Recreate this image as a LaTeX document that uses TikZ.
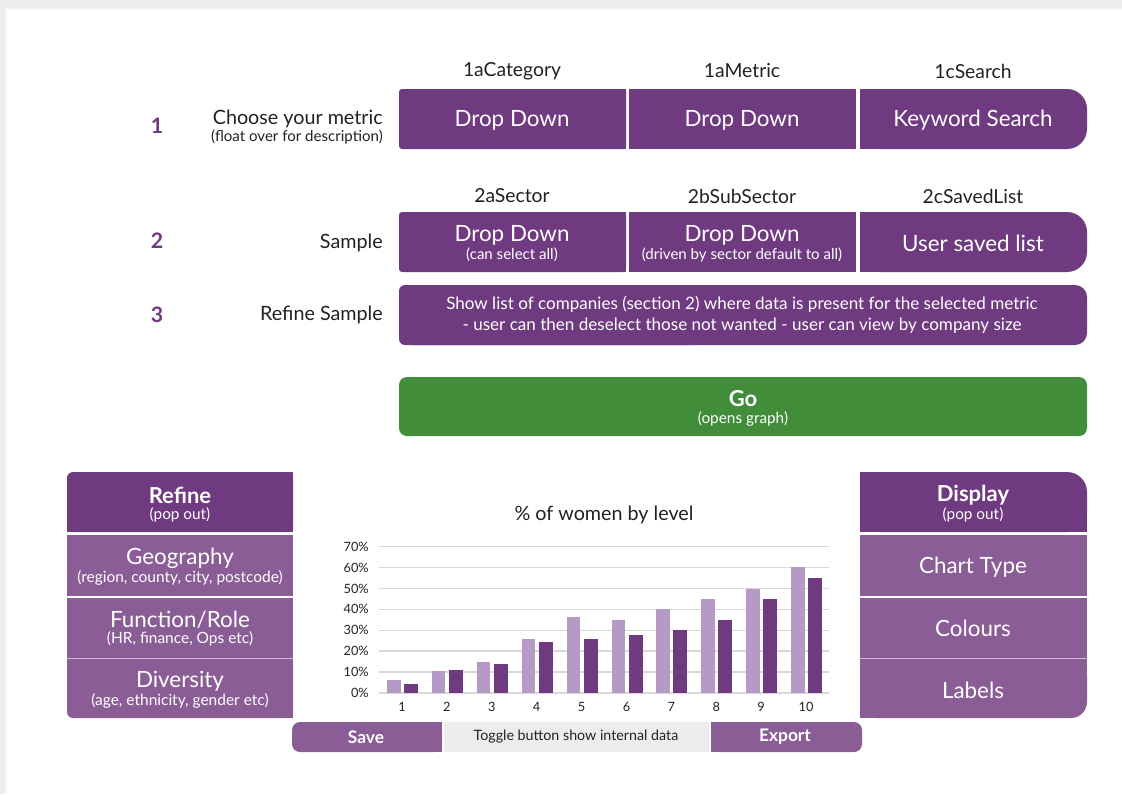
\documentclass[tikz,border=0pt]{standalone}
\usepackage{fontspec}
\setmainfont{Lato}
\usepackage{tikz}

\definecolor{plum}{RGB}{111,58,128}
\definecolor{plumlight}{RGB}{138,93,150}
\definecolor{plumbar}{RGB}{180,154,197}
\definecolor{gogreen}{RGB}{65,141,58}
\definecolor{togglegray}{RGB}{236,236,236}
\definecolor{gridgray}{RGB}{217,217,217}
\definecolor{pagegray}{RGB}{238,238,238}
\definecolor{inktext}{RGB}{34,34,34}

\newcommand{\fsz}[1]{\fontsize{#1}{1.2\dimexpr#1\relax}\selectfont}

\begin{document}
\begin{tikzpicture}[x=0.75pt,y=0.75pt,yscale=-1,xscale=1,
  numlbl/.style={inner sep=0pt, text=plum, font=\fsz{16pt}\bfseries},
  rowlbl/.style={inner sep=0pt, anchor=east, text=inktext, font=\fsz{14.8pt}},
  rowsub/.style={inner sep=0pt, anchor=east, text=inktext, font=\fsz{11.3pt}},
  hdr/.style={inner sep=0pt, text=inktext, font=\fsz{14.5pt}},
  boxtxt/.style={inner sep=0pt, text=white, font=\fsz{16.8pt}},
  boxsub/.style={inner sep=0pt, text=white, font=\fsz{11.3pt}},
  paneltop/.style={inner sep=0pt, text=white, font=\fsz{16.5pt}\bfseries},
  panelsub/.style={inner sep=0pt, text=white, font=\fsz{11.5pt}},
  itemsub/.style={inner sep=0pt, text=white, font=\fsz{11.6pt}},
  axlbl/.style={inner sep=0pt, text=inktext, font=\fsz{9.6pt}},
  grid/.style={draw=gridgray, line width=1.1pt},
  btntxt/.style={inner sep=0pt, text=white, font=\fsz{13pt}\bfseries}]
\useasboundingbox (0,0) rectangle (1122,794);

%Page
\fill[pagegray] (0,0) rectangle (1122,794);
\fill[black!4] (5,8) rectangle (1122,794);
\fill[white] (7,10) rectangle (1122,794);

%Shape: Row 1 boxes
\fill[plum, rounded corners=2.25pt] (399,89) rectangle (626,149);
\fill[plum] (500,89) rectangle (626,149);
\fill[plum] (629,89) rectangle (856,149);
\fill[plum, rounded corners=15pt] (860,89) rectangle (1087,149);
\fill[plum] (860,89) rectangle (960,149);
%Shape: Row 2 boxes
\fill[plum, rounded corners=2.25pt] (399,212) rectangle (626,272);
\fill[plum] (500,212) rectangle (626,272);
\fill[plum] (629,212) rectangle (856,272);
\fill[plum, rounded corners=15pt] (860,212) rectangle (1087,272);
\fill[plum] (860,212) rectangle (960,272);
%Shape: Row 3 box
\fill[plum, rounded corners=9pt] (399,285) rectangle (1087,345);
\fill[plum, rounded corners=4.5pt] (399,285) rectangle (700,345);
%Shape: Go button
\fill[gogreen, rounded corners=6pt] (399,377) rectangle (1087,436);

%Shape: Refine panel
\fill[plum, rounded corners=4.5pt] (67,472) rectangle (293,532);
\fill[plum] (67,500) rectangle (293,532);
\fill[plum] (150,472) rectangle (293,532);
\fill[plumlight] (67,535) rectangle (293,596);
\fill[plumlight] (67,597.5) rectangle (293,658);
\fill[plumlight, rounded corners=4.5pt] (67,659) rectangle (293,718);
\fill[plumlight] (67,659) rectangle (293,690);
\fill[plumlight] (150,659) rectangle (293,718);
\draw[plumbar!70!white, line width=0.6pt] (67,658.5) -- (293,658.5);

%Shape: Display panel
\fill[plum, rounded corners=15pt] (860,472) rectangle (1087,532);
\fill[plum] (860,500) rectangle (1087,532);
\fill[plum] (860,472) rectangle (960,532);
\fill[plumlight] (860,535) rectangle (1087,596);
\fill[plumlight] (860,597.5) rectangle (1087,658);
\fill[plumlight, rounded corners=12pt] (860,659) rectangle (1087,718);
\fill[plumlight] (860,659) rectangle (1087,690);
\fill[plumlight] (860,659) rectangle (960,718);
\draw[plumbar!70!white, line width=0.6pt] (860,658.5) -- (1087,658.5);

%Shape: Bottom buttons
\fill[plumlight, rounded corners=6pt] (292,722) rectangle (442,752);
\fill[plumlight] (360,722) rectangle (442,752);
\fill[togglegray] (444,722) rectangle (709,752);
\fill[plumlight, rounded corners=6pt] (711,722) rectangle (862,752);
\fill[plumlight] (711,722) rectangle (790,752);

%Chart grid and axis labels
\foreach \p in {0,...,7} {
  \pgfmathtruncatemacro{\pct}{\p*10}
  \draw[grid] (379,693-\p*20.9) -- (829,693-\p*20.9);
  \node[axlbl, anchor=east] (y\p) at (369,693-\p*20.9) {\pct\%};
}
%Chart bars
\foreach \i/\a/\b in {1/6/4.1, 2/10.4/11, 3/15/14, 4/26/24.2, 5/36.2/26,
                      6/35/27.8, 7/40/30, 8/45/35, 9/50/45, 10/60.4/55.2} {
  \pgfmathsetmacro{\cx}{402+(\i-1)*44.9}
  \fill[plumbar] (\cx-15,693) rectangle (\cx-1.5,693-\a*2.09);
  \fill[plum] (\cx+2,693) rectangle (\cx+16,693-\b*2.09);
  \node[axlbl] (x\i) at (\cx,707) {\i};
}

% Text Node
\node[numlbl] (n1) at (157,126) {1};
\node[numlbl] (n2) at (157,241) {2};
\node[numlbl] (n3) at (157,315) {3};
% Text Node
\node[rowlbl] (choose) at (383,119) {Choose your metric};
\node[rowsub] (float) at (383,137) {(float over for description)};
\node[rowlbl] (sample) at (383,243) {Sample};
\node[rowlbl] (refsample) at (383,315) {Refine Sample};
% Text Node
\node[hdr] (hcat) at (512,71) {1aCategory};
\node[hdr] (hmet) at (742,71) {1aMetric};
\node[hdr] (hsrch) at (973,71) {1cSearch};
\node[hdr] (hsec) at (512,196) {2aSector};
\node[hdr] (hsub) at (742,196) {2bSubSector};
\node[hdr] (hsav) at (973,196) {2cSavedList};
% Text Node
\node[boxtxt] (ddcat) at (512,120) {Drop Down};
\node[boxtxt] (ddmet) at (742,120) {Drop Down};
\node[boxtxt] (kwsrch) at (973,120) {Keyword Search};
\node[boxtxt] (ddsec) at (512,235) {Drop Down};
\node[boxsub] (ddsecsub) at (512,255) {(can select all)};
\node[boxtxt] (ddsub) at (742,235) {Drop Down};
\node[boxsub] (ddsubsub) at (742,255) {(driven by sector default to all)};
\node[boxtxt] (saved) at (973,243) {User saved list};
% Text Node
\node[inner sep=0pt, text=white, font=\fsz{12.8pt}, align=center] (reftxt) at (742,315)
  {Show list of companies (section 2) where data is present for the selected metric\\
   - user can then deselect those not wanted - user can view by company size};
% Text Node
\node[paneltop] (go) at (743,399) {Go};
\node[panelsub] (gosub) at (743,419) {(opens graph)};
% Text Node
\node[paneltop] (refine) at (180,495) {Refine};
\node[panelsub] (refsub) at (180,515) {(pop out)};
\node[boxtxt] (geo) at (180,558) {Geography};
\node[itemsub] (geosub) at (180,578) {(region, county, city, postcode)};
\node[boxtxt] (func) at (180,620) {Function/Role};
\node[itemsub] (funcsub) at (180,639) {(HR, finance, Ops etc)};
\node[boxtxt] (div) at (180,681) {Diversity};
\node[itemsub] (divsub) at (180,701) {(age, ethnicity, gender etc)};
% Text Node
\node[paneltop] (disp) at (973,495) {Display};
\node[panelsub] (dispsub) at (973,515) {(pop out)};
\node[boxtxt] (ctype) at (973,567) {Chart Type};
\node[boxtxt] (cols) at (973,628) {Colours};
\node[boxtxt] (lbls) at (973,690) {Labels};
% Text Node
\node[inner sep=0pt, text=inktext, font=\fsz{14.8pt}] (ctitle) at (604,515) {\% of women by level};
% Text Node
\node[btntxt] (save) at (366,737) {Save};
\node[inner sep=0pt, text=inktext, font=\fsz{10.7pt}] (toggle) at (576,737) {Toggle button show internal data};
\node[btntxt] (export) at (785,737) {Export};

\end{tikzpicture}
\end{document}
